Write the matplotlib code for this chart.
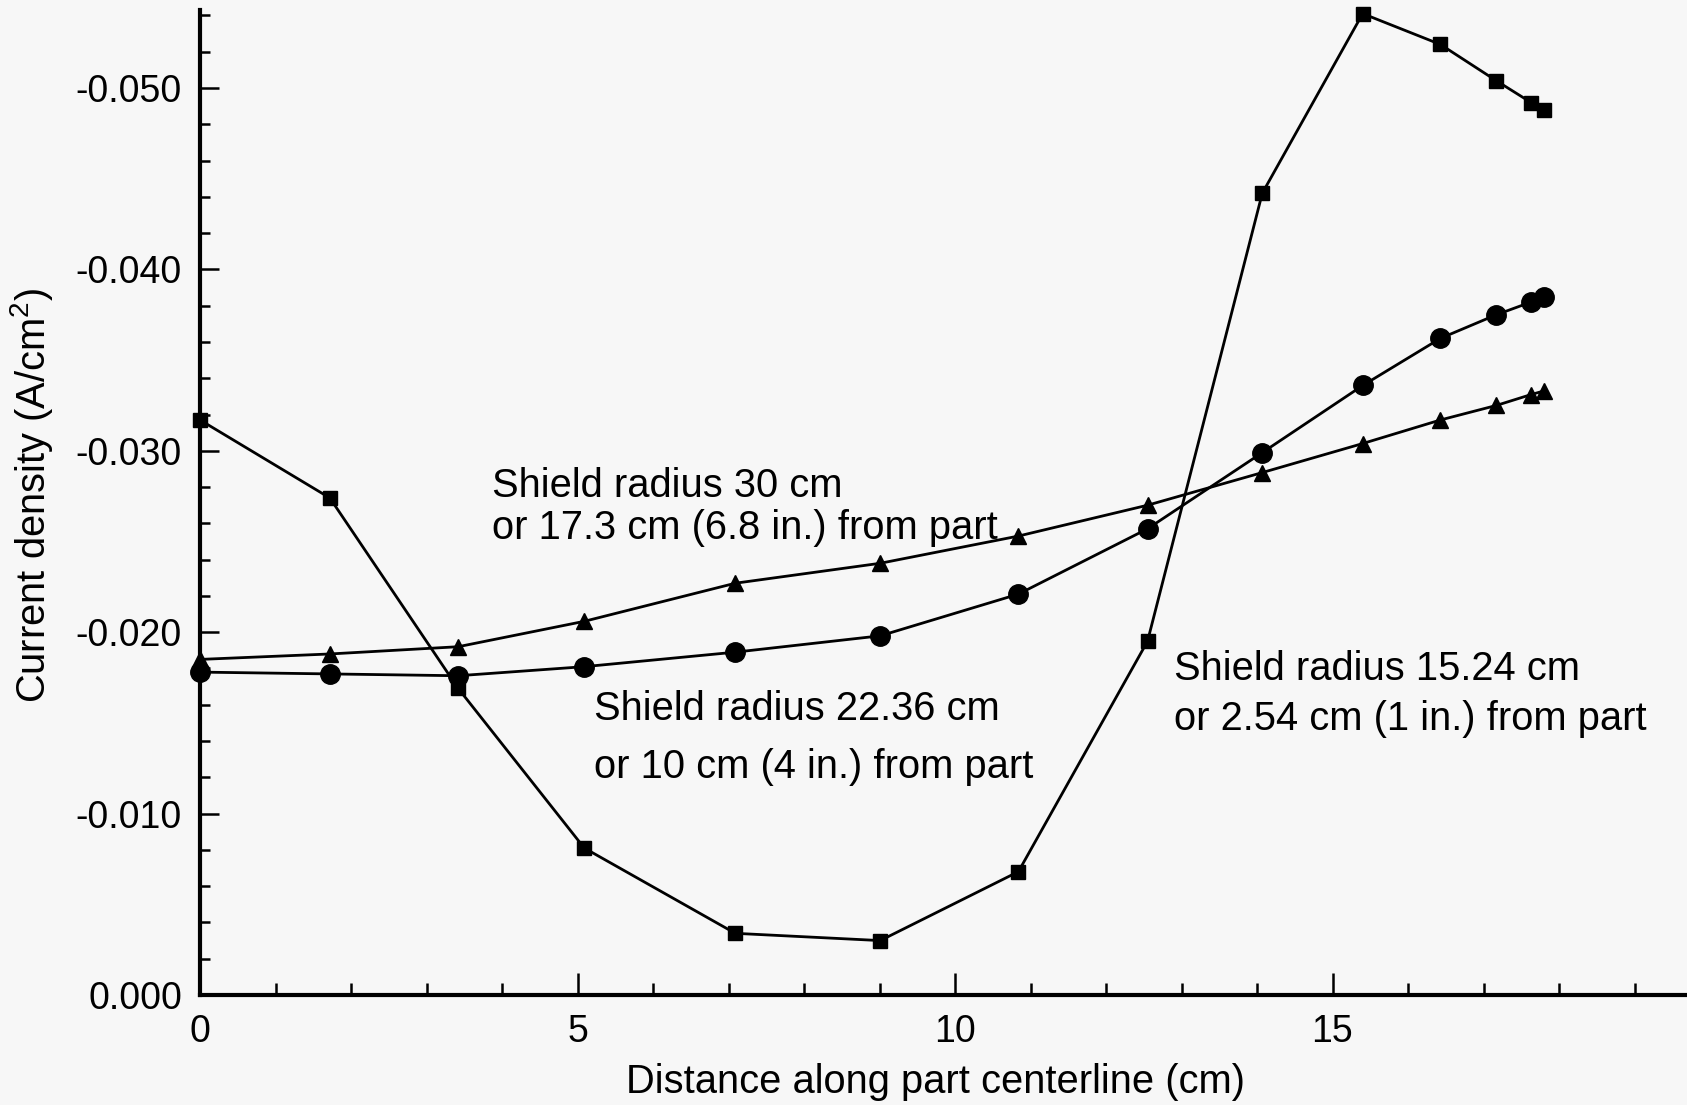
import numpy as np
import matplotlib
matplotlib.use("Agg")
import matplotlib.pyplot as plt
from matplotlib.ticker import MultipleLocator, FormatStrFormatter

# distance along part centerline (cm), shared by the three runs
distance = [0.0, 1.72, 3.42, 5.09, 7.09, 9.01, 10.84, 12.55, 14.07, 15.40, 16.43, 17.17, 17.63, 17.80]

# current density (A/cm^2) for each shield radius
shield_1524 = [-0.0317, -0.0274, -0.0169, -0.0081, -0.0034, -0.0030, -0.0068, -0.0195,
               -0.0442, -0.0541, -0.0524, -0.0504, -0.0492, -0.0488]
shield_2286 = [-0.0178, -0.0177, -0.0176, -0.0181, -0.0189, -0.0198, -0.0221, -0.0257,
               -0.0299, -0.0336, -0.0362, -0.0375, -0.0382, -0.0385]
shield_30 = [-0.0185, -0.0188, -0.0192, -0.0206, -0.0227, -0.0238, -0.0253, -0.0270,
             -0.0288, -0.0304, -0.0317, -0.0325, -0.0331, -0.0333]

y_ticks = [0.0, -0.010, -0.020, -0.030, -0.040, -0.050]

W, H = 1687, 1105
BG = '#f7f7f7'
FONT = ['Liberation Sans', 'DejaVu Sans']
FS = 27      # tick labels
FS_TXT = 28.7  # axis labels and notes

plt.rcParams['font.family'] = FONT
plt.rcParams['axes.unicode_minus'] = False
plt.rcParams['mathtext.default'] = 'regular'


def px(x, y):
    return x / W, 1 - y / H


f = plt.figure(figsize=(W / 100, H / 100), dpi=100, facecolor=BG)
ax = f.add_axes([200 / W, 1 - 995 / H, 1 - 200 / W, (995 - 10) / H])
ax.set_facecolor(BG)

ax.plot(distance, shield_1524, color='black', lw=2.0, marker='s', ms=10.5,
        clip_on=False, zorder=3)
ax.plot(distance, shield_2286, color='black', lw=2.0, marker='o', ms=14,
        clip_on=False, zorder=3)
ax.plot(distance, shield_30, color='black', lw=2.0, marker='^', ms=11,
        clip_on=False, zorder=3)

ax.set_xlim(0, (W - 200) / 75.5)
ax.set_ylim(0, -(995 - 10) / 181.4 * 0.01)

ax.spines['top'].set_visible(False)
ax.spines['right'].set_visible(False)
ax.spines['left'].set_linewidth(3)
ax.spines['bottom'].set_linewidth(3)

ax.set_yticks(y_ticks)
ax.yaxis.set_major_formatter(FormatStrFormatter('%.3f'))
ax.yaxis.set_minor_locator(MultipleLocator(0.002))
ax.xaxis.set_major_locator(MultipleLocator(5))
ax.xaxis.set_minor_locator(MultipleLocator(1))

ax.tick_params(which='both', direction='in', width=1.8, labelsize=FS, colors='black')
ax.tick_params(axis='y', which='major', length=14, pad=13)
ax.tick_params(axis='y', which='minor', length=7)
ax.tick_params(axis='x', which='major', length=16, pad=14)
ax.tick_params(axis='x', which='minor', length=9)

f.text(*px(936, 1093), 'Distance along part centerline (cm)', fontsize=FS_TXT,
       ha='center', va='baseline')
f.text(*px(32, 495), 'Current density (A/cm$^2$)', fontsize=FS_TXT, rotation=90,
       ha='center', va='center')

f.text(*px(492, 497), 'Shield radius 30 cm', fontsize=FS_TXT, va='baseline')
f.text(*px(492, 539), 'or 17.3 cm (6.8 in.) from part', fontsize=FS_TXT, va='baseline')
f.text(*px(594, 720), 'Shield radius 22.36 cm', fontsize=FS_TXT, va='baseline')
f.text(*px(594, 778), 'or 10 cm (4 in.) from part', fontsize=FS_TXT, va='baseline')
f.text(*px(1174, 680), 'Shield radius 15.24 cm', fontsize=FS_TXT, va='baseline')
f.text(*px(1174, 730), 'or 2.54 cm (1 in.) from part', fontsize=FS_TXT, va='baseline')

f.savefig('out.png', dpi=100, facecolor=BG)
